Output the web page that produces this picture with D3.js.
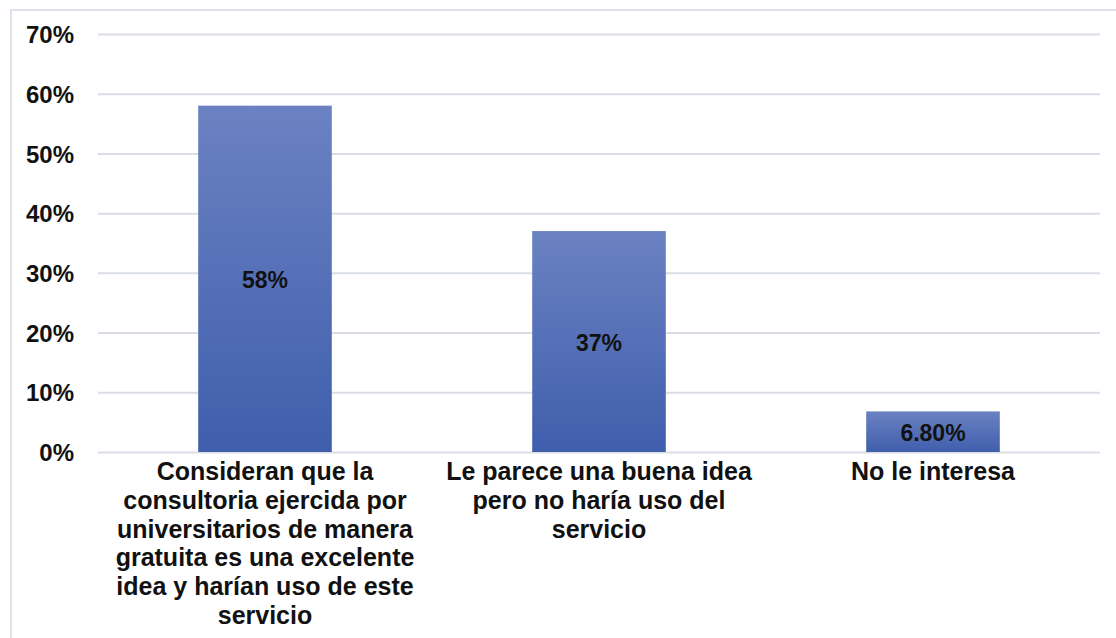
<!DOCTYPE html>
<html><head><meta charset="utf-8">
<script src="https://cdn.jsdelivr.net/npm/d3@7"></script>
<style>body{margin:0;background:#fff;}svg{display:block;}</style>
</head><body><svg id="c" width="1116" height="638"></svg>
<script>
const categories = [
  ["Consideran que la","consultoria ejercida por","universitarios de manera","gratuita es una excelente","idea y harían uso de este","servicio"],
  ["Le parece una buena idea","pero no haría uso del","servicio"],
  ["No le interesa"]
];
const values = [0.58, 0.37, 0.068];
const valueLabels = ["58%", "37%", "6.80%"];
const tickValues = [0, 0.1, 0.2, 0.3, 0.4, 0.5, 0.6, 0.7];

const svg = d3.select("#c");
const m = {left: 98, right: 16, top: 34, bottom: 186};
const font = "'Liberation Sans', Arial, sans-serif";

svg.append("rect").attr("x", 11).attr("y", 10).attr("width", 1120).attr("height", 700)
  .attr("fill", "#fff").attr("stroke", "#dde2ea").attr("stroke-width", 2);

const x = d3.scaleBand().domain(d3.range(values.length)).range([m.left, 1100]).paddingInner(0.6).paddingOuter(0.3);
const y = d3.scaleLinear().domain([0, 0.7]).range([452, 34]);

const defs = svg.append("defs");
const g = defs.append("linearGradient").attr("id", "bg").attr("x1", 0).attr("y1", 0).attr("x2", 0).attr("y2", 1);
g.append("stop").attr("offset", "0%").attr("stop-color", "#6b82c2");
g.append("stop").attr("offset", "100%").attr("stop-color", "#3f5eac");

const yAxis = d3.axisLeft(y).tickValues(tickValues).tickSize(-(1100 - m.left)).tickFormat(d3.format(".0%"));
const ga = svg.append("g").attr("transform", `translate(${m.left},0)`).call(yAxis);
ga.select(".domain").remove();
ga.selectAll(".tick line").attr("stroke", "#d9dde6").attr("stroke-width", 2);
ga.selectAll(".tick text").attr("x", -24).attr("dy", "0.36em").attr("font-family", font).attr("font-weight", "bold")
  .attr("font-size", 24).attr("fill", "#111");

svg.selectAll("rect.bar").data(values).join("rect").attr("class", "bar")
  .attr("x", (d, i) => x(i)).attr("width", x.bandwidth())
  .attr("y", d => y(d)).attr("height", d => y(0) - y(d))
  .attr("fill", "url(#bg)");

svg.selectAll("text.val").data(values).join("text").attr("class", "val")
  .attr("x", (d, i) => x(i) + x.bandwidth() / 2)
  .attr("y", d => (y(d) + y(0)) / 2 + 9)
  .attr("text-anchor", "middle").attr("font-family", font).attr("font-weight", "bold")
  .attr("font-size", 23).attr("fill", "#111")
  .text((d, i) => valueLabels[i]);

const cl = svg.selectAll("text.cat").data(categories).join("text").attr("class", "cat")
  .attr("text-anchor", "middle").attr("font-family", font).attr("font-weight", "bold")
  .attr("font-size", 25).attr("fill", "#111");
cl.each(function(lines, i) {
  d3.select(this).selectAll("tspan").data(lines).join("tspan")
    .attr("x", x(i) + x.bandwidth() / 2)
    .attr("y", (d, j) => 480 + j * 28.8)
    .text(d => d);
});
</script></body></html>
